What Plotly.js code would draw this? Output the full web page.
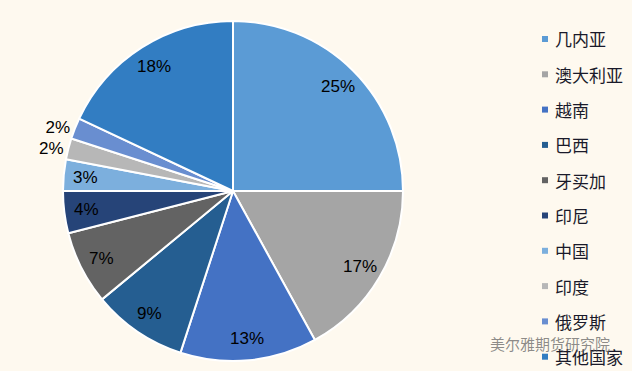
<!DOCTYPE html>
<html>
<head>
<meta charset="utf-8">
<script src="https://cdn.plot.ly/plotly-3.0.1.min.js"></script>
<style>
html,body{margin:0;padding:0;background:#fef9ef;}
#chart{width:632px;height:371px;}
</style>
</head>
<body>
<div id="chart"></div>
<script>
const categories = ["几内亚","澳大利亚","越南","巴西","牙买加","印尼","中国","印度","俄罗斯","其他国家"];
const shares = [25, 17, 13, 9, 7, 4, 3, 2, 2, 18];
const colors = ["#5b9bd5","#a5a5a5","#4472c4","#255e91","#636363","#264478","#7cafdd","#b7b7b7","#698ed0","#327dc2"];
const outsideLabel = [false,false,false,false,false,false,false,true,true,false];
const watermark = "美尔雅期货研究院";

const W = 632, H = 371;
const cx = 233, cy = 191, R = 170;
const insideFactor = 0.87;
const labelFont = {family: "Liberation Sans, Arial, sans-serif", size: 17, color: "#000000"};

const trace = {
  type: "pie",
  labels: categories,
  values: shares,
  sort: false,
  direction: "clockwise",
  rotation: 0,
  marker: {colors: colors, line: {color: "#ffffff", width: 2}},
  texttemplate: "%{value}%",
  textposition: outsideLabel.map(o => o ? "outside" : "none"),
  textfont: labelFont,
  outsidetextfont: labelFont,
  domain: {x: [(cx - R) / W, (cx + R) / W], y: [(H - cy - R) / H, (H - cy + R) / H]},
  showlegend: false,
  hoverinfo: "label+percent"
};

const shapes = [];
const annotations = [];

// inside percentage labels, placed from each slice's mid-angle
const total = shares.reduce((a, b) => a + b, 0);
let cum = 0;
shares.forEach((v, i) => {
  const mid = (cum + v / 2) / total * 2 * Math.PI;
  cum += v;
  if (outsideLabel[i]) return;
  const px = cx + insideFactor * R * Math.sin(mid);
  const py = cy - insideFactor * R * Math.cos(mid);
  annotations.push({
    xref: "paper", yref: "paper", x: px / W, y: (H - py) / H,
    xanchor: "center", yanchor: "middle", showarrow: false,
    text: v + "%", font: labelFont
  });
});

const legX = 545, legY0 = 39, legStep = 35.3;
categories.forEach((c, i) => {
  const y = legY0 + i * legStep;
  shapes.push({
    type: "rect", xref: "paper", yref: "paper",
    x0: (legX - 3) / W, x1: (legX + 3) / W,
    y0: (H - y - 3) / H, y1: (H - y + 3) / H,
    fillcolor: colors[i], line: {width: 0}
  });
  annotations.push({
    xref: "paper", yref: "paper",
    x: (legX + 8) / W, y: (H - y) / H,
    xanchor: "left", yanchor: "middle",
    text: c, showarrow: false,
    font: {family: "Noto Sans CJK SC, sans-serif", size: 17, color: "#1a1a2a"}
  });
});
annotations.push({
  xref: "paper", yref: "paper",
  x: 488 / W, y: (H - 343) / H, xanchor: "left", yanchor: "middle",
  text: watermark, showarrow: false,
  font: {family: "Noto Sans CJK SC, sans-serif", size: 15, color: "rgba(90,90,90,0.7)"}
});

const layout = {
  width: W, height: H,
  margin: {l: 0, r: 0, t: 0, b: 0},
  paper_bgcolor: "#fef9ef",
  plot_bgcolor: "#fef9ef",
  shapes: shapes,
  annotations: annotations,
  showlegend: false
};

Plotly.newPlot("chart", [trace], layout, {displayModeBar: false, staticPlot: true});
</script>
</body>
</html>
